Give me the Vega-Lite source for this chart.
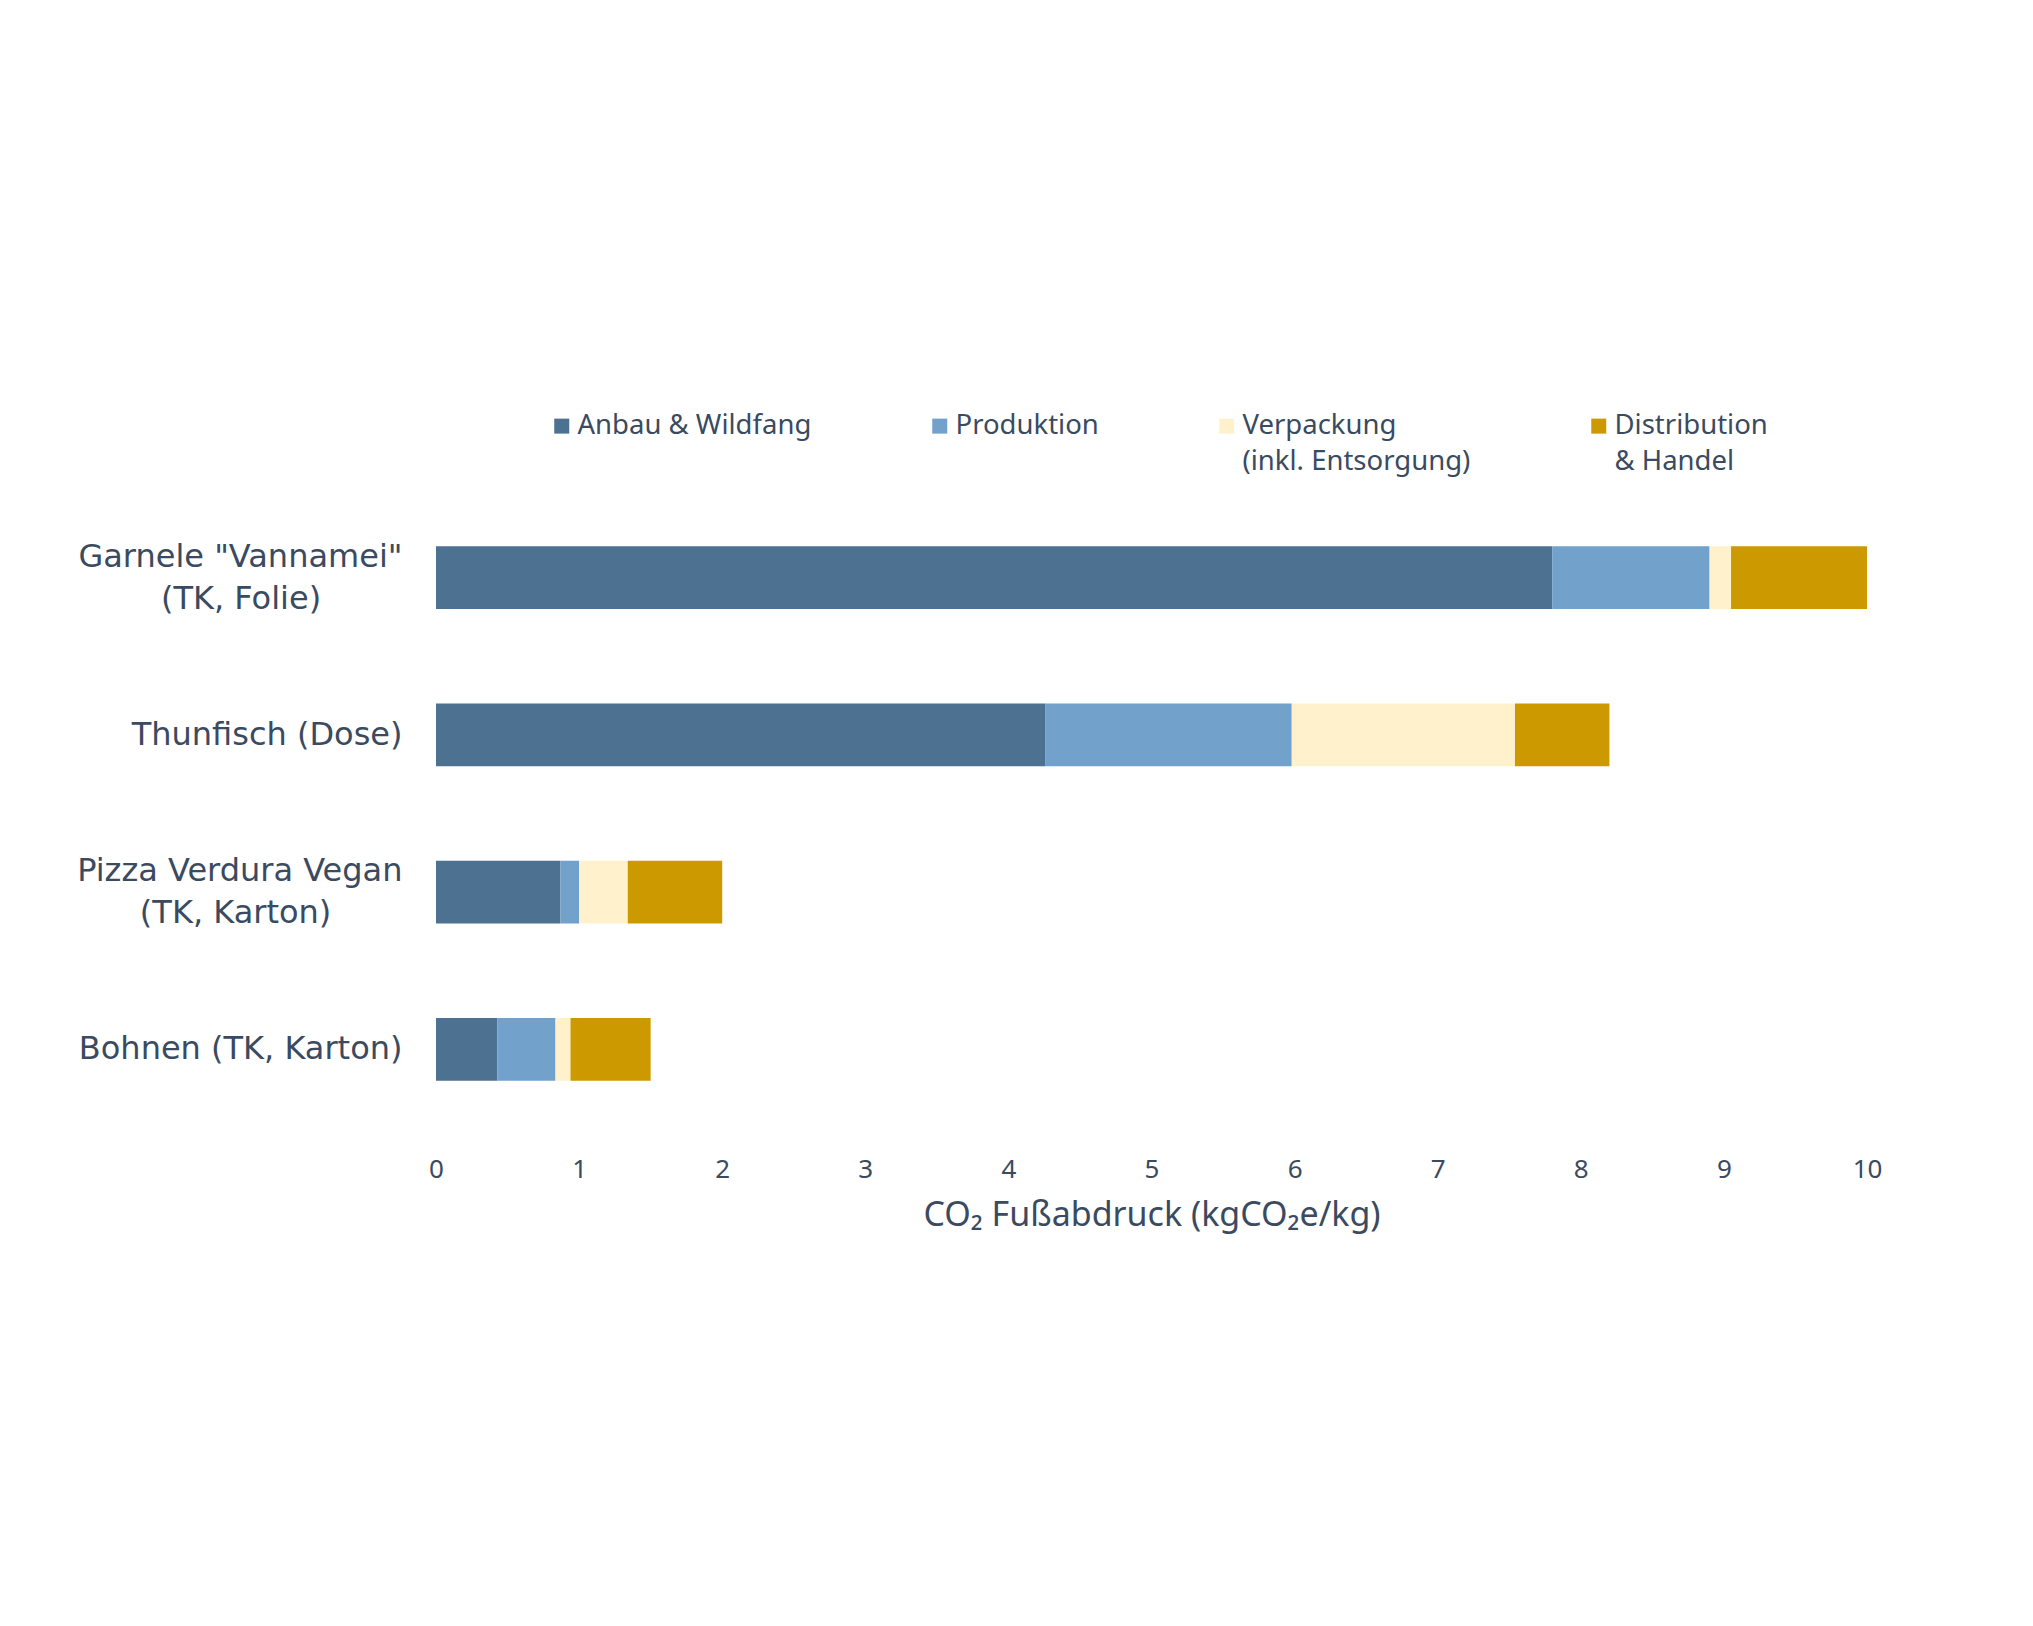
{
  "$schema": "https://vega.github.io/schema/vega-lite/v6.json",
  "autosize": "none",
  "width": 1431,
  "height": 629,
  "padding": {"left": 436, "top": 499, "right": 166, "bottom": 498},
  "background": "white",
  "config": {
    "view": {"stroke": null},
    "font": "Noto Sans",
    "text": {"color": "#3a4a60"}
  },
  "data": {
    "values": [
      {"product": "Garnele \"Vannamei\"|(TK, Folie)\u00a0\u00a0\u00a0\u00a0\u00a0\u00a0\u00a0\u00a0\u200b", "stage": "Anbau & Wildfang", "n": 1, "value": 7.80},
      {"product": "Garnele \"Vannamei\"|(TK, Folie)\u00a0\u00a0\u00a0\u00a0\u00a0\u00a0\u00a0\u00a0\u200b", "stage": "Produktion", "n": 2, "value": 1.10},
      {"product": "Garnele \"Vannamei\"|(TK, Folie)\u00a0\u00a0\u00a0\u00a0\u00a0\u00a0\u00a0\u00a0\u200b", "stage": "Verpackung|(inkl. Entsorgung)", "n": 3, "value": 0.15},
      {"product": "Garnele \"Vannamei\"|(TK, Folie)\u00a0\u00a0\u00a0\u00a0\u00a0\u00a0\u00a0\u00a0\u200b", "stage": "Distribution|& Handel", "n": 4, "value": 0.95},
      {"product": "Thunfisch (Dose)", "stage": "Anbau & Wildfang", "n": 1, "value": 4.26},
      {"product": "Thunfisch (Dose)", "stage": "Produktion", "n": 2, "value": 1.72},
      {"product": "Thunfisch (Dose)", "stage": "Verpackung|(inkl. Entsorgung)", "n": 3, "value": 1.56},
      {"product": "Thunfisch (Dose)", "stage": "Distribution|& Handel", "n": 4, "value": 0.66},
      {"product": "Pizza Verdura Vegan|(TK, Karton)\u00a0\u00a0\u00a0\u00a0\u00a0\u00a0\u00a0\u200b", "stage": "Anbau & Wildfang", "n": 1, "value": 0.87},
      {"product": "Pizza Verdura Vegan|(TK, Karton)\u00a0\u00a0\u00a0\u00a0\u00a0\u00a0\u00a0\u200b", "stage": "Produktion", "n": 2, "value": 0.13},
      {"product": "Pizza Verdura Vegan|(TK, Karton)\u00a0\u00a0\u00a0\u00a0\u00a0\u00a0\u00a0\u200b", "stage": "Verpackung|(inkl. Entsorgung)", "n": 3, "value": 0.34},
      {"product": "Pizza Verdura Vegan|(TK, Karton)\u00a0\u00a0\u00a0\u00a0\u00a0\u00a0\u00a0\u200b", "stage": "Distribution|& Handel", "n": 4, "value": 0.66},
      {"product": "Bohnen (TK, Karton)", "stage": "Anbau & Wildfang", "n": 1, "value": 0.43},
      {"product": "Bohnen (TK, Karton)", "stage": "Produktion", "n": 2, "value": 0.405},
      {"product": "Bohnen (TK, Karton)", "stage": "Verpackung|(inkl. Entsorgung)", "n": 3, "value": 0.105},
      {"product": "Bohnen (TK, Karton)", "stage": "Distribution|& Handel", "n": 4, "value": 0.56}
    ]
  },
  "mark": {"type": "bar"},
  "encoding": {
    "y": {
      "field": "product",
      "type": "nominal",
      "sort": null,
      "scale": {"paddingInner": 0.6, "paddingOuter": 0.3},
      "axis": {
        "title": null,
        "domain": false,
        "ticks": false,
        "labelPadding": 34,
        "labelFontSize": 32,
        "labelLineHeight": 42,
        "labelColor": "#3a4a60",
        "labelFont": "DejaVu Sans",
        "labelLimit": 600,
        "labelOffset": {"condition": {"test": "indexof(datum.label, '|') >= 0", "value": -21}, "value": 0},
        "labelExpr": "split(datum.label, '|')"
      }
    },
    "x": {
      "field": "value",
      "type": "quantitative",
      "stack": "zero",
      "scale": {"domain": [0, 10], "nice": false, "zero": true},
      "axis": {
        "title": "CO₂ Fußabdruck (kgCO₂e/kg)",
        "values": [0, 1, 2, 3, 4, 5, 6, 7, 8, 9, 10],
        "grid": false,
        "domain": false,
        "ticks": false,
        "labelPadding": 28,
        "labelFontSize": 26,
        "labelFontWeight": "normal",
        "labelColor": "#3a4a60",
        "labelFont": "Noto Sans",
        "labelFlush": false,
        "titleFontSize": 34,
        "titleFontWeight": "normal",
        "titleColor": "#3a4a60",
        "titleFont": "Noto Sans",
        "titlePadding": 16
      }
    },
    "color": {
      "field": "stage",
      "type": "nominal",
      "scale": {
        "domain": ["Anbau & Wildfang", "Produktion", "Verpackung|(inkl. Entsorgung)", "Distribution|& Handel"],
        "range": ["#4c7191", "#72a2cb", "#fff1cc", "#cc9900"]
      },
      "legend": {
        "title": null,
        "orient": "none",
        "direction": "horizontal",
        "legendX": 112,
        "legendY": -87,
        "symbolType": "square",
        "symbolSize": 225,
        "symbolStrokeWidth": 0,
        "labelFontSize": 27.5,
        "labelColor": "#3a4a60",
        "labelFont": "Noto Sans",
        "labelOffset": 2,
        "labelLimit": 400,
        "columnPadding": 114,
        "labelExpr": "indexof(datum.label, '|') >= 0 ? split(datum.label, '|') : [datum.label, '\u00a0\u200b']",
        "encode": {"labels": {"update": {"lineHeight": {"value": 36}}}}
      }
    },
    "order": {"field": "n", "type": "quantitative"}
  }
}
